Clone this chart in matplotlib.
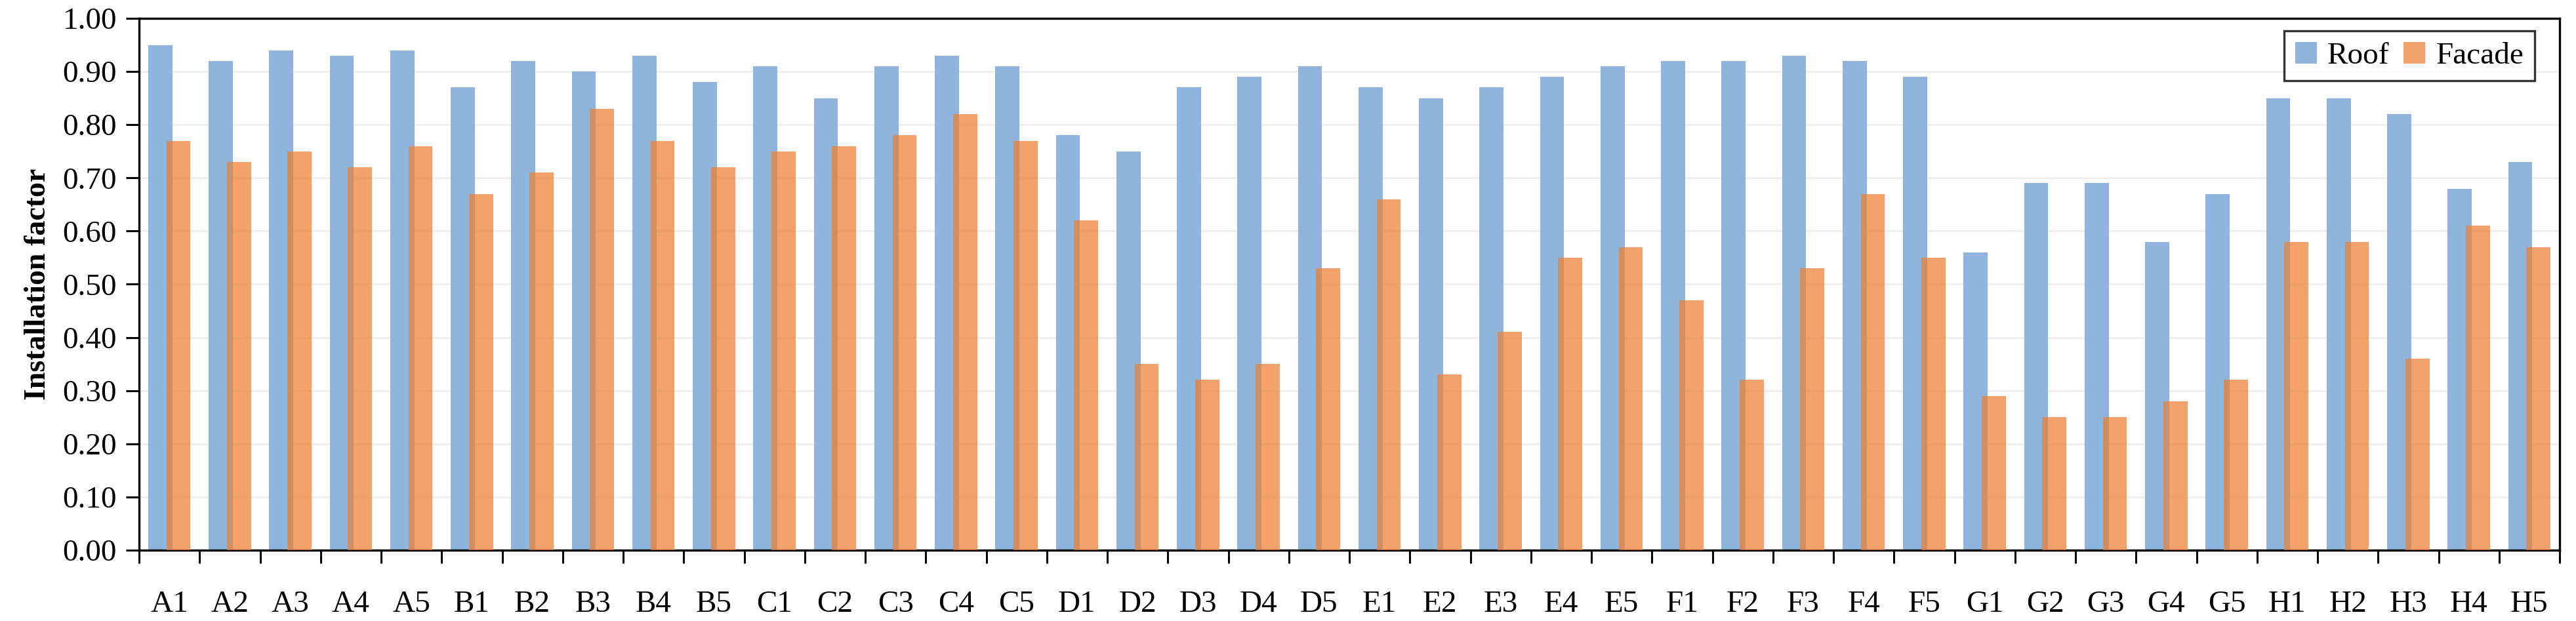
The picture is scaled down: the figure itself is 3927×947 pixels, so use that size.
import matplotlib
matplotlib.use("Agg")
import matplotlib.pyplot as plt
import numpy as np
from matplotlib.ticker import MultipleLocator, FixedLocator, NullFormatter, FormatStrFormatter

categories = ["A1", "A2", "A3", "A4", "A5", "B1", "B2", "B3", "B4", "B5",
              "C1", "C2", "C3", "C4", "C5", "D1", "D2", "D3", "D4", "D5",
              "E1", "E2", "E3", "E4", "E5", "F1", "F2", "F3", "F4", "F5",
              "G1", "G2", "G3", "G4", "G5", "H1", "H2", "H3", "H4", "H5"]
roof = [0.95, 0.92, 0.94, 0.93, 0.94, 0.87, 0.92, 0.90, 0.93, 0.88,
        0.91, 0.85, 0.91, 0.93, 0.91, 0.78, 0.75, 0.87, 0.89, 0.91,
        0.87, 0.85, 0.87, 0.89, 0.91, 0.92, 0.92, 0.93, 0.92, 0.89,
        0.56, 0.69, 0.69, 0.58, 0.67, 0.85, 0.85, 0.82, 0.68, 0.73]
facade = [0.77, 0.73, 0.75, 0.72, 0.76, 0.67, 0.71, 0.83, 0.77, 0.72,
          0.75, 0.76, 0.78, 0.82, 0.77, 0.62, 0.35, 0.32, 0.35, 0.53,
          0.66, 0.33, 0.41, 0.55, 0.57, 0.47, 0.32, 0.53, 0.67, 0.55,
          0.29, 0.25, 0.25, 0.28, 0.32, 0.58, 0.58, 0.36, 0.61, 0.57]
series_names = ["Roof", "Facade"]

plt.rcParams['font.family'] = ['Liberation Serif', 'DejaVu Serif']

fig = plt.figure(figsize=(39.27, 9.47), dpi=100)
ax = fig.add_axes([212/3927, 1 - 839/947, (3902-212)/3927, (839-28)/947])

x = np.arange(len(categories))
w = 0.4
off = 0.15
ax.bar(x - off, roof, width=w, color='#8FB4DE', label=series_names[0], zorder=2)
ax.bar(x + off, facade, width=w, color='#ED7F31', alpha=0.72, label=series_names[1], zorder=3)

ax.set_xlim(-0.5, len(categories) - 0.5)
ax.set_ylim(0, 1.0)
ax.yaxis.set_major_locator(MultipleLocator(0.1))
ax.yaxis.set_major_formatter(FormatStrFormatter('%.2f'))
ax.grid(axis='y', color='#EFEFEF', linewidth=2.2, zorder=0)
ax.set_axisbelow(True)

ax.xaxis.set_major_locator(FixedLocator(np.arange(-0.5, len(categories), 1.0)))
ax.xaxis.set_major_formatter(NullFormatter())
ax.xaxis.set_minor_locator(FixedLocator(x))
ax.set_xticks(x, categories, minor=True)
ax.tick_params(axis='x', which='minor', length=0, labelsize=34, pad=44)
ax.tick_params(axis='both', which='major', length=14.4, width=2.2, direction='out', labelsize=34)
ax.tick_params(axis='y', pad=10)

for s in ax.spines.values():
    s.set_linewidth(2.4)
    s.set_color('black')

ax.set_ylabel('Installation factor', fontsize=33, fontweight='bold', labelpad=12)

leg = ax.legend(loc='upper right', bbox_to_anchor=(0.9897, 0.9766), borderaxespad=0,
                ncol=2, fontsize=34, frameon=True, fancybox=False,
                handlelength=0.7, handleheight=0.7, handletextpad=0.35,
                columnspacing=0.45, borderpad=0.35)
leg.get_frame().set_edgecolor('black')
leg.get_frame().set_linewidth(2.4)
for h in leg.legend_handles:
    h.set_alpha(None)
leg.legend_handles[1].set_facecolor('#F2A26B')

fig.savefig('out.png', dpi=100)
